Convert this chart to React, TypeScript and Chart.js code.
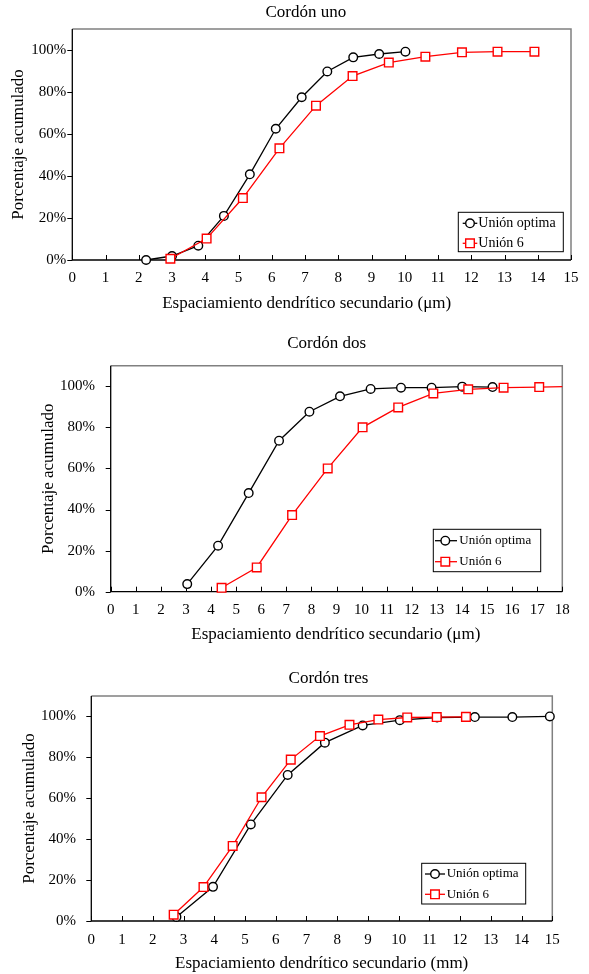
import React, { useEffect, useRef } from "react";
import { Chart, registerables } from "chart.js";

Chart.register(...registerables);

const FONT = "'Liberation Serif', 'Times New Roman', Times, serif";

// ---------- data ----------
const seriesLabels = ["Unión optima", "Unión 6"];
const chartTitles = ["Cordón uno", "Cordón dos", "Cordón tres"];
const yAxisTitle = "Porcentaje acumulado";
const xAxisTitles = [
  "Espaciamiento dendrítico secundario (μm)",
  "Espaciamiento dendrítico secundario (μm)",
  "Espaciamiento dendrítico secundario (mm)",
];
const yTickValues = [0, 20, 40, 60, 80, 100];
const xTicks15 = [0, 1, 2, 3, 4, 5, 6, 7, 8, 9, 10, 11, 12, 13, 14, 15];
const xTicks18 = [0, 1, 2, 3, 4, 5, 6, 7, 8, 9, 10, 11, 12, 13, 14, 15, 16, 17, 18];

// Cordón uno
const unoOptimaX = [2.22, 3.0, 3.79, 4.56, 5.34, 6.12, 6.9, 7.67, 8.45, 9.23, 10.02];
const unoOptimaY = [0, 1.9, 6.8, 21, 40.8, 62.5, 77.5, 89.8, 96.5, 98.1, 99.2];
const unoU6X = [2.95, 4.04, 5.13, 6.23, 7.33, 8.43, 9.52, 10.62, 11.72, 12.79, 13.9];
const unoU6Y = [0.6, 10.2, 29.5, 53.2, 73.5, 87.6, 94, 96.8, 98.9, 99.2, 99.2];

// Cordón dos
const dosOptimaX = [3.05, 4.28, 5.5, 6.71, 7.92, 9.14, 10.36, 11.57, 12.79, 14.01, 15.22];
const dosOptimaY = [3.7, 22.4, 48, 73.5, 87.6, 95.1, 98.7, 99.3, 99.3, 99.8, 99.6];
const dosU6X = [4.42, 5.82, 7.23, 8.65, 10.04, 11.46, 12.86, 14.25, 15.66, 17.08, 18.5];
const dosU6Y = [1.9, 11.8, 37.3, 60, 80, 89.7, 96.5, 98.5, 99.3, 99.6, 99.9];

// Cordón tres
const tresOptimaX = [2.77, 3.96, 5.19, 6.39, 7.6, 8.83, 10.04, 11.25, 12.48, 13.7, 14.92];
const tresOptimaY = [2, 16.7, 47.2, 71.4, 87.2, 95.6, 98.2, 99.5, 99.7, 99.7, 100];
const tresU6X = [2.68, 3.65, 4.6, 5.54, 6.49, 7.44, 8.4, 9.34, 10.28, 11.24, 12.19];
const tresU6Y = [3.1, 16.6, 36.7, 60.5, 78.9, 90.4, 95.9, 98.5, 99.5, 99.7, 99.8];

const zip = (xs: number[], ys: number[]) => xs.map((x, i) => ({ x, y: ys[i] }));

// ---------- layout ----------
const panels = [
  {
    top: 0, height: 320, area: { l: 72.3, r: 571, t: 29, b: 260 }, xMax: 15, xTicks: xTicks15,
    title: chartTitles[0], titleX: 305.8, titleBase: 16.7,
    xTitle: xAxisTitles[0], xTitleX: 306.7, xTitleBase: 308,
    yTitlePad: 8.6, yTickPad: 6, xTickPad: 9,
    legend: { l: 458.3, t: 212.3, r: 563.3, b: 251.7, line0: 4.4, line1: 19, mark: 11.7, text: 20, rows: [11, 31], size: 14 },
    optima: zip(unoOptimaX, unoOptimaY), u6: zip(unoU6X, unoU6Y), clipRight: false,
  },
  {
    top: 320, height: 330, area: { l: 110.7, r: 562.3, t: 45.7, b: 271.7 }, xMax: 18, xTicks: xTicks18,
    title: chartTitles[1], titleX: 326.7, titleBase: 28,
    xTitle: xAxisTitles[1], xTitleX: 335.8, xTitleBase: 319,
    yTitlePad: 38.8, yTickPad: 15.7, xTickPad: 9.3,
    legend: { l: 433.3, t: 209.3, r: 540.7, b: 251.7, line0: 1.7, line1: 23.7, mark: 12, text: 26, rows: [11.4, 32.4], size: 13 },
    optima: zip(dosOptimaX, dosOptimaY), u6: zip(dosU6X, dosU6Y), clipRight: true,
  },
  {
    top: 650, height: 324, area: { l: 91.3, r: 552.3, t: 46, b: 271 }, xMax: 15, xTicks: xTicks15,
    title: chartTitles[2], titleX: 328.5, titleBase: 33,
    xTitle: xAxisTitles[2], xTitleX: 321.7, xTitleBase: 318,
    yTitlePad: 19, yTickPad: 15.3, xTickPad: 10,
    legend: { l: 421.7, t: 213.3, r: 525.7, b: 254, line0: 3.3, line1: 23.3, mark: 13.3, text: 25, rows: [10.7, 31], size: 13 },
    optima: zip(tresOptimaX, tresOptimaY), u6: zip(tresU6X, tresU6Y), clipRight: false,
  },
];

const decoPlugin = {
  id: "deco",
  beforeDatasetsDraw(chart: any, _a: any, o: any) {
    const { ctx, chartArea: a, scales } = chart;
    const xs = scales.x, ys = scales.y;
    ctx.save();
    ctx.strokeStyle = "#808080";
    ctx.lineWidth = 1.5;
    ctx.beginPath();
    ctx.moveTo(a.left, a.top);
    ctx.lineTo(a.right, a.top);
    ctx.lineTo(a.right, a.bottom);
    ctx.stroke();
    ctx.strokeStyle = "#000";
    ctx.lineWidth = 1.3;
    ctx.beginPath();
    ctx.moveTo(a.left, a.top);
    ctx.lineTo(a.left, a.bottom);
    ctx.lineTo(a.right, a.bottom);
    ctx.stroke();
    ctx.lineWidth = 1;
    ctx.beginPath();
    for (const v of o.xTicks) {
      const px = Math.round(xs.getPixelForValue(v)) + 0.5;
      ctx.moveTo(px, a.bottom);
      ctx.lineTo(px, a.bottom - 5);
    }
    for (const v of yTickValues) {
      const py = Math.round(ys.getPixelForValue(v)) + 0.5;
      ctx.moveTo(a.left - 5, py);
      ctx.lineTo(a.left, py);
    }
    ctx.stroke();
    ctx.restore();
  },
  afterDraw(chart: any, _a: any, o: any) {
    const { ctx } = chart;
    ctx.save();
    ctx.fillStyle = "#000";
    ctx.font = `17px ${FONT}`;
    ctx.textAlign = "center";
    ctx.textBaseline = "alphabetic";
    ctx.fillText(o.title, o.titleX, o.titleBase);
    ctx.fillText(o.xTitle, o.xTitleX, o.xTitleBase);

    const L = o.legend;
    ctx.fillStyle = "#fff";
    ctx.fillRect(L.l, L.t, L.r - L.l, L.b - L.t);
    ctx.strokeStyle = "#000";
    ctx.lineWidth = 1;
    ctx.strokeRect(L.l, L.t, L.r - L.l, L.b - L.t);
    const dss = chart.data.datasets;
    dss.forEach((ds: any, i: number) => {
      const cy = L.t + L.rows[i];
      ctx.strokeStyle = ds.borderColor;
      ctx.lineWidth = ds.borderWidth;
      ctx.beginPath();
      ctx.moveTo(L.l + L.line0, cy);
      ctx.lineTo(L.l + L.line1, cy);
      ctx.stroke();
      const mx = L.l + L.mark;
      ctx.fillStyle = "#fff";
      ctx.strokeStyle = ds.pointBorderColor;
      ctx.lineWidth = ds.pointBorderWidth;
      ctx.beginPath();
      if (ds.pointStyle === "rect") {
        const h = ds.pointRadius * Math.SQRT1_2;
        ctx.rect(mx - h, cy - h, 2 * h, 2 * h);
      } else {
        ctx.arc(mx, cy, ds.pointRadius, 0, Math.PI * 2);
      }
      ctx.fill();
      ctx.stroke();
      ctx.fillStyle = "#000";
      ctx.font = `${L.size}px ${FONT}`;
      ctx.textAlign = "left";
      ctx.textBaseline = "middle";
      ctx.fillText(ds.label, L.l + L.text, cy);
    });
    ctx.restore();
  },
};

function Panel({ p }: { p: any }) {
  const ref = useRef<HTMLCanvasElement>(null);
  useEffect(() => {
    if (!ref.current) return;
    const chart = new Chart(ref.current, {
      type: "line",
      data: {
        datasets: [
          {
            label: seriesLabels[0],
            data: p.optima,
            borderColor: "#000000",
            borderWidth: 1.3,
            pointStyle: "circle",
            pointRadius: 4.3,
            pointBackgroundColor: "#ffffff",
            pointBorderColor: "#000000",
            pointBorderWidth: 1.4,
            tension: 0,
            order: 1,
            clip: false,
          } as any,
          {
            label: seriesLabels[1],
            data: p.u6,
            borderColor: "#ff0000",
            borderWidth: 1.3,
            pointStyle: "rect",
            pointRadius: 6.1,
            pointBackgroundColor: "#ffffff",
            pointBorderColor: "#ff0000",
            pointBorderWidth: 1.4,
            tension: 0,
            order: 0,
            clip: p.clipRight ? { left: false, top: false, right: 0, bottom: false } : false,
          } as any,
        ],
      },
      options: {
        animation: false,
        responsive: false,
        devicePixelRatio: 1,
        events: [],
        layout: { padding: { left: 0, top: p.area.t, right: 589 - p.area.r, bottom: 0 } },
        plugins: {
          legend: { display: false },
          tooltip: { enabled: false },
          title: { display: false },
          deco: {
            xTicks: p.xTicks, title: p.title, titleX: p.titleX, titleBase: p.titleBase,
            xTitle: p.xTitle, xTitleX: p.xTitleX, xTitleBase: p.xTitleBase, legend: p.legend,
          },
        } as any,
        scales: {
          x: {
            type: "linear",
            min: 0,
            max: p.xMax,
            grid: { display: false, drawTicks: false },
            border: { display: false },
            ticks: {
              color: "#000",
              font: { family: FONT, size: 15 },
              padding: p.xTickPad,
              maxRotation: 0,
              autoSkip: false,
            },
            afterBuildTicks: (s: any) => { s.ticks = p.xTicks.map((v: number) => ({ value: v })); },
            afterFit: (s: any) => { s.height = p.height - p.area.b; },
          },
          y: {
            type: "linear",
            min: 0,
            max: 110,
            grid: { display: false, drawTicks: false },
            border: { display: false },
            ticks: {
              color: "#000",
              font: { family: FONT, size: 15 },
              padding: p.yTickPad,
              callback: (v: any) => `${v}%`,
            },
            title: {
              display: true,
              text: yAxisTitle,
              color: "#000",
              font: { family: FONT, size: 17 },
              padding: { top: p.yTitlePad, bottom: 0 },
            },
            afterBuildTicks: (s: any) => { s.ticks = yTickValues.map((v) => ({ value: v })); },
            afterFit: (s: any) => { s.width = p.area.l; },
          },
        },
      } as any,
      plugins: [decoPlugin as any],
    });
    return () => chart.destroy();
  }, [p]);
  return (
    <canvas
      ref={ref}
      width={589}
      height={p.height}
      style={{ position: "absolute", left: 0, top: p.top, width: 589, height: p.height, display: "block" }}
    />
  );
}

export default function App() {
  return (
    <div style={{ position: "absolute", left: 0, top: 0, width: 589, height: 974, background: "#fff" }}>
      {panels.map((p, i) => (
        <Panel key={i} p={p} />
      ))}
    </div>
  );
}
